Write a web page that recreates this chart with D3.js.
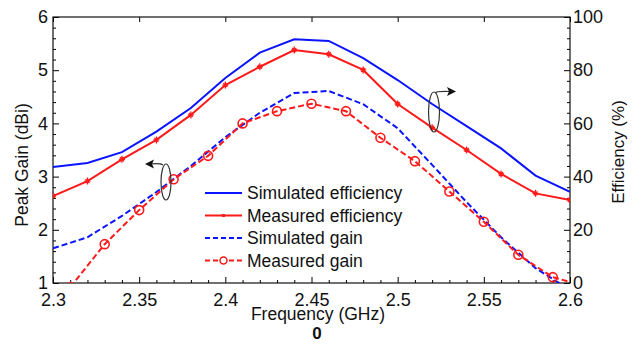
<!DOCTYPE html>
<html>
<head>
<meta charset="utf-8">
<script src="https://cdn.jsdelivr.net/npm/d3@7"></script>
<style>
  html, body { margin: 0; padding: 0; background: #fff; }
  svg { display: block; font-family: Arial, "Liberation Sans", sans-serif; }
</style>
</head>
<body>
<svg id="chart" width="636" height="344"></svg>
<script>
// ---- data ----
const effFreq = [2.30, 2.32, 2.34, 2.36, 2.38, 2.40, 2.42, 2.44, 2.46, 2.48, 2.50, 2.52, 2.54, 2.56, 2.58, 2.60];
const simEfficiency = [43.6, 45.1, 49.2, 56.9, 65.8, 77.1, 86.6, 91.6, 91.0, 84.5, 76.3, 67.3, 59.0, 50.6, 40.4, 34.3];
const measEfficiency = [32.7, 38.3, 46.5, 53.8, 63.2, 74.4, 81.3, 87.6, 86.0, 80.1, 67.3, 58.4, 50.0, 41.0, 33.7, 31.2];
const simGainFreq = [2.30, 2.32, 2.34, 2.36, 2.38, 2.40, 2.42, 2.44, 2.46, 2.48, 2.50, 2.52, 2.54, 2.56, 2.58, 2.60];
const simGain = [1.65, 1.86, 2.26, 2.71, 3.20, 3.74, 4.20, 4.57, 4.61, 4.36, 3.91, 3.22, 2.52, 1.86, 1.28, 0.87];
const measGainFreq = [2.31, 2.33, 2.35, 2.37, 2.39, 2.41, 2.43, 2.45, 2.47, 2.49, 2.51, 2.53, 2.55, 2.57, 2.59, 2.60];
const measGain = [0.92, 1.73, 2.37, 2.95, 3.39, 4.00, 4.23, 4.37, 4.23, 3.73, 3.29, 2.72, 2.15, 1.53, 1.11, 1.02];
const xTicks = [2.3, 2.35, 2.4, 2.45, 2.5, 2.55, 2.6];
const xTickLabels = ["2.3", "2.35", "2.4", "2.45", "2.5", "2.55", "2.6"];
const gainTicks = [1, 2, 3, 4, 5, 6];
const effTicks = [0, 20, 40, 60, 80, 100];
const legendLabels = ["Simulated efficiency", "Measured efficiency", "Simulated gain", "Measured gain"];

const BLUE = "#0a14ff", RED = "#ff1a1a";

const svg = d3.select("#chart");
const L = 53, R = 570, T = 17, B = 283;

const x = d3.scaleLinear().domain([2.3, 2.6]).range([L, R]);
const yG = d3.scaleLinear().domain([1, 6]).range([B, T]);
const yE = d3.scaleLinear().domain([0, 100]).range([B, T]);

// clip
svg.append("clipPath").attr("id", "clip").append("rect")
  .attr("x", L).attr("y", T).attr("width", R - L).attr("height", B - T);

const fontTick = "18px";

// bottom axis: major with labels, minor ticks inward
const xMinor = d3.range(2.3, 2.6001, 0.01).filter(v => Math.abs(Math.round(v * 20) - v * 20) > 1e-6);
svg.append("g").attr("transform", `translate(0,${B})`)
  .call(d3.axisBottom(x).tickValues(xMinor).tickSize(-3).tickFormat(""))
  .call(g => g.select(".domain").remove());
const gx = svg.append("g").attr("transform", `translate(0,${B})`)
  .call(d3.axisBottom(x).tickValues(xTicks).tickSize(-6).tickPadding(10)
    .tickFormat((d, i) => xTickLabels[i]));
gx.select(".domain").remove();
gx.selectAll("text").attr("font-size", fontTick).attr("fill", "#111").attr("font-family", "Arial, 'Liberation Sans', sans-serif");

// top axis (major ticks only)
const gt = svg.append("g").attr("transform", `translate(0,${T})`)
  .call(d3.axisTop(x).tickValues(xTicks).tickSize(-5).tickFormat(""));
gt.select(".domain").remove();

// left axis
const gMinor = d3.range(1, 6.001, 0.2).filter(v => Math.abs(v - Math.round(v)) > 1e-6);
svg.append("g").attr("transform", `translate(${L},0)`)
  .call(d3.axisLeft(yG).tickValues(gMinor).tickSize(-3).tickFormat(""))
  .call(g => g.select(".domain").remove());
const gl = svg.append("g").attr("transform", `translate(${L},0)`)
  .call(d3.axisLeft(yG).tickValues(gainTicks).tickSize(-6).tickPadding(5).tickFormat(d3.format("d")));
gl.select(".domain").remove();
gl.selectAll("text").attr("font-size", fontTick).attr("fill", "#111").attr("font-family", "Arial, 'Liberation Sans', sans-serif");

// right axis
const eMinor = d3.range(0, 100.001, 4).filter(v => v % 20 !== 0);
svg.append("g").attr("transform", `translate(${R},0)`)
  .call(d3.axisRight(yE).tickValues(eMinor).tickSize(-3).tickFormat(""))
  .call(g => g.select(".domain").remove());
const gr = svg.append("g").attr("transform", `translate(${R},0)`)
  .call(d3.axisRight(yE).tickValues(effTicks).tickSize(-6).tickPadding(3).tickFormat(d3.format("d")));
gr.select(".domain").remove();
gr.selectAll("text").attr("font-size", fontTick).attr("fill", "#111").attr("font-family", "Arial, 'Liberation Sans', sans-serif");

// frame
svg.append("rect").attr("x", L).attr("y", T).attr("width", R - L).attr("height", B - T)
  .attr("fill", "none").attr("stroke", "#111").attr("stroke-width", 1.2);

// axis titles
svg.append("text").attr("transform", `translate(28,${(T + B) / 2 + 15}) rotate(-90)`)
  .attr("text-anchor", "middle").attr("font-size", "17.5px").attr("fill", "#111").text("Peak Gain (dBi)");
svg.append("text").attr("transform", `translate(624,${(T + B) / 2 + 2}) rotate(-90)`)
  .attr("text-anchor", "middle").attr("font-size", "17px").attr("fill", "#111").text("Efficiency (%)");
svg.append("text").attr("x", 318).attr("y", 320)
  .attr("text-anchor", "middle").attr("font-size", "17.5px").attr("fill", "#111").text("Frequency (GHz)");
svg.append("text").attr("x", 317).attr("y", 339)
  .attr("text-anchor", "middle").attr("font-size", "17px").attr("font-weight", "bold").attr("fill", "#111").text("0");

// curves
const plot = svg.append("g").attr("clip-path", "url(#clip)");
const lineE = (fs, vs) => d3.line().x((d, i) => x(fs[i])).y(d => yE(d))(vs);
const lineG = (fs, vs) => d3.line().x((d, i) => x(fs[i])).y(d => yG(d))(vs);

plot.append("path").attr("d", lineE(effFreq, simEfficiency))
  .attr("fill", "none").attr("stroke", BLUE).attr("stroke-width", 2);
plot.append("path").attr("d", lineE(effFreq, measEfficiency))
  .attr("fill", "none").attr("stroke", RED).attr("stroke-width", 2);
plot.append("path").attr("d", lineG(simGainFreq, simGain))
  .attr("fill", "none").attr("stroke", BLUE).attr("stroke-width", 2).attr("stroke-dasharray", "6,3");
plot.append("path").attr("d", lineG(measGainFreq, measGain))
  .attr("fill", "none").attr("stroke", RED).attr("stroke-width", 2).attr("stroke-dasharray", "6,3");

const starPath = "M0,-3.5V3.5M-3,0H3M-2,-2L2,2M-2,2L2,-2";
plot.selectAll(".me").data(measEfficiency).enter().append("path")
  .attr("transform", (d, i) => `translate(${x(effFreq[i])},${yE(d)})`)
  .attr("d", starPath).attr("stroke", RED).attr("stroke-width", 1.3).attr("fill", "none");
plot.selectAll(".mg").data(measGain).enter().append("circle")
  .filter((d, i) => i < measGain.length - 1)
  .attr("cx", (d, i) => x(measGainFreq[i])).attr("cy", d => yG(d)).attr("r", 4.5)
  .attr("fill", "none").attr("stroke", RED).attr("stroke-width", 1.6);

// legend
const legY = [193, 215.5, 238, 260.5];
const lx0 = 205, lx1 = 242;
const leg = svg.append("g");
leg.append("line").attr("x1", lx0).attr("x2", lx1).attr("y1", legY[0]).attr("y2", legY[0]).attr("stroke", BLUE).attr("stroke-width", 2);
leg.append("line").attr("x1", lx0).attr("x2", lx1).attr("y1", legY[1]).attr("y2", legY[1]).attr("stroke", RED).attr("stroke-width", 2);
leg.append("rect").attr("x", (lx0 + lx1) / 2 - 1.5).attr("y", legY[1] - 1.5).attr("width", 3).attr("height", 3).attr("fill", RED);
leg.append("line").attr("x1", lx0).attr("x2", lx1).attr("y1", legY[2]).attr("y2", legY[2]).attr("stroke", BLUE).attr("stroke-width", 2).attr("stroke-dasharray", "5,3");
leg.append("line").attr("x1", lx0).attr("x2", lx1).attr("y1", legY[3]).attr("y2", legY[3]).attr("stroke", RED).attr("stroke-width", 2).attr("stroke-dasharray", "5,3");
leg.append("circle").attr("cx", (lx0 + lx1) / 2).attr("cy", legY[3]).attr("r", 3.5).attr("fill", "#fff").attr("stroke", RED).attr("stroke-width", 1.5);
leg.selectAll("text").data(legendLabels).enter().append("text")
  .attr("x", 247).attr("y", (d, i) => legY[i] + 6)
  .attr("font-size", "17.5px").attr("fill", "#111").text(d => d);

// annotations: ellipses with arrows
const ann = svg.append("g").attr("fill", "none").attr("stroke", "#333").attr("stroke-width", 1.2);
ann.append("ellipse").attr("cx", 166).attr("cy", 182).attr("rx", 5).attr("ry", 18);
ann.append("path").attr("d", "M163,165 Q160,163 150,164");
svg.append("path").attr("d", "M145,164 L154,159.5 L152,164 L154,168.5 Z").attr("fill", "#111");
ann.append("ellipse").attr("cx", 434).attr("cy", 112).attr("rx", 5.5).attr("ry", 20);
ann.append("path").attr("d", "M435,93 Q437,91 449,91.5");
svg.append("path").attr("d", "M456,91.5 L447,87 L449,91.5 L447,96 Z").attr("fill", "#111");
</script>
</body>
</html>
